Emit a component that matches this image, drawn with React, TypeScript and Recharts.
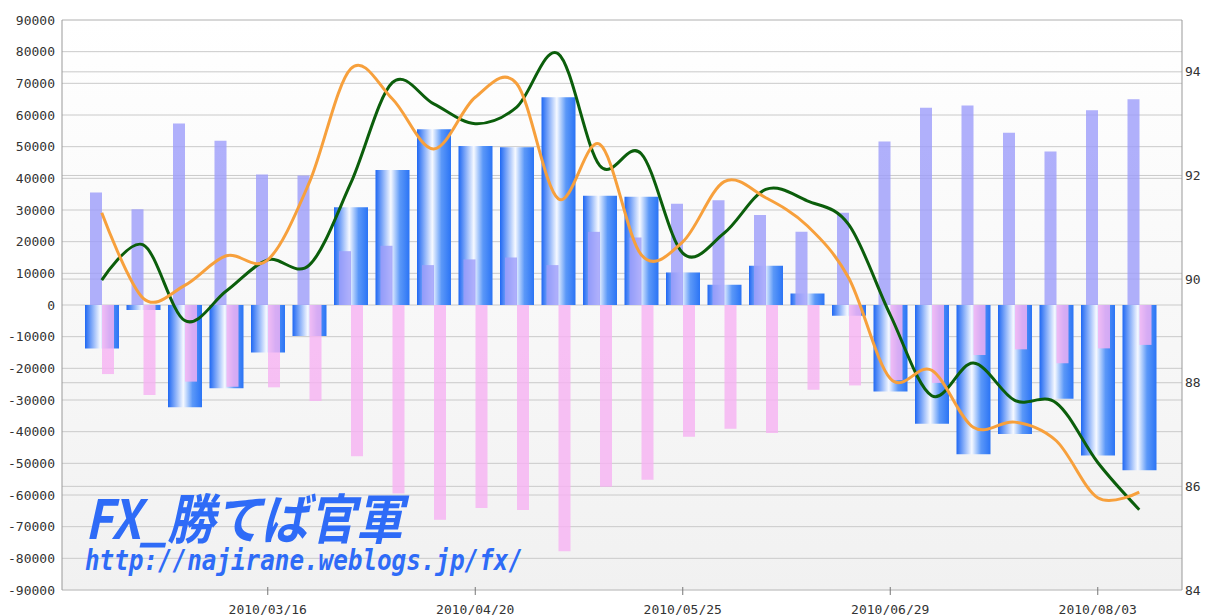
import {
  Bar,
  CartesianGrid,
  ComposedChart,
  Line,
  XAxis,
  YAxis,
} from 'recharts'

const weeks = [
  '2010/02/16', '2010/02/23', '2010/03/02', '2010/03/09', '2010/03/16', '2010/03/23',
  '2010/03/30', '2010/04/06', '2010/04/13', '2010/04/20', '2010/04/27', '2010/05/04',
  '2010/05/11', '2010/05/18', '2010/05/25', '2010/06/01', '2010/06/08', '2010/06/15',
  '2010/06/22', '2010/06/29', '2010/07/06', '2010/07/13', '2010/07/20', '2010/07/27',
  '2010/08/03', '2010/08/10',
]
const shownDates = ['2010/03/16', '2010/04/20', '2010/05/25', '2010/06/29', '2010/08/03']

// blue (wide) bars
const netPos = [
  -13700, -1600, -32300, -26300, -15000, -9800, 30900, 42600, 55500, 50200, 49800, 65600, 34500,
  34200, 10300, 6400, 12400, 3600, -3400, -27300, -37500, -47100, -40700, -29600, -47500, -52200,
]
// lavender bars
const longPos = [
  35500, 30200, 57300, 51900, 41200, 40900, 17000, 18700, 12600, 14400, 15000, 12600, 23100,
  21300, 32000, 33100, 28400, 23100, 29100, 51600, 62300, 63000, 54400, 48500, 61500, 65000,
]
// pink bars
const shortPos = [
  -21800, -28400, -24200, -25800, -26000, -30300, -47800, -59500, -67800, -64100, -64700, -77800,
  -57400, -55200, -41600, -39100, -40400, -26800, -25400, -23700, -24600, -15800, -14000, -18400,
  -13700, -12600,
]
const rateGreen = [
  89.98, 90.66, 89.2, 89.77, 90.37, 90.27, 91.85, 93.79, 93.38, 93.0, 93.32, 94.35, 92.19,
  92.42, 90.5, 90.89, 91.73, 91.51, 91.05, 89.31, 87.75, 88.38, 87.66, 87.61, 86.46, 85.55,
]
const rateOrange = [
  91.28, 89.63, 89.88, 90.45, 90.37, 91.86, 94.06, 93.48, 92.51, 93.51, 93.77, 91.55, 92.6,
  90.47, 90.72, 91.88, 91.57, 91.03, 90.02, 88.08, 88.24, 87.14, 87.24, 86.88, 85.78, 85.89,
]

const leftTicks = [
  90000, 80000, 70000, 60000, 50000, 40000, 30000, 20000, 10000, 0, -10000, -20000, -30000,
  -40000, -50000, -60000, -70000, -80000, -90000,
]
const rightTicks = [84, 86, 88, 90, 92, 94]

const rows = weeks.map((date, i) => ({
  date,
  net: netPos[i],
  long: longPos[i],
  short: shortPos[i],
  green: rateGreen[i],
  orange: rateOrange[i],
}))

const axisFont = { fontFamily: '"DejaVu Sans Mono", monospace', fontSize: 13, fill: '#333' }
const X_AXIS_H = 25

// catmull-rom style cardinal curve (same logic as d3 curveCardinal, tension 0)
const cardinal = (ctx: any) => {
  const k = 1 / 6
  let x0 = NaN, y0 = NaN, x1 = NaN, y1 = NaN, x2 = NaN, y2 = NaN
  let pt = 0
  let line = NaN
  const seg = (x: number, y: number) => {
    ctx.bezierCurveTo(x1 + k * (x2 - x0), y1 + k * (y2 - y0), x2 + k * (x1 - x), y2 + k * (y1 - y), x2, y2)
  }
  return {
    areaStart() { line = 0 },
    areaEnd() { line = NaN },
    lineStart() { x0 = x1 = x2 = y0 = y1 = y2 = NaN; pt = 0 },
    lineEnd() {
      if (pt === 2) ctx.lineTo(x2, y2)
      else if (pt === 3) seg(x1, y1)
      if (line || (line !== 0 && pt === 1)) ctx.closePath()
      line = 1 - line
    },
    point(x: number, y: number) {
      if (pt === 0) {
        pt = 1
        if (line) ctx.lineTo(x, y)
        else ctx.moveTo(x, y)
      } else if (pt === 1) {
        pt = 2
        x1 = x
        y1 = y
      } else {
        pt = 3
        seg(x, y)
      }
      x0 = x1; x1 = x2; x2 = x
      y0 = y1; y1 = y2; y2 = y
    },
  }
}

// tick y comes in at the bottom edge of the axis area, so step back to the axis line
function DateTick({ x, y, payload }: any) {
  if (!shownDates.includes(payload.value)) return <g />
  const axisY = y - X_AXIS_H
  return (
    <g>
      <line x1={x} x2={x} y1={axisY - 8} y2={axisY} stroke="#777" />
      <text x={x} y={axisY + 19} textAnchor="middle" {...axisFont}>
        {payload.value}
      </text>
    </g>
  )
}

export default function App() {
  const pad = { left: 19, right: 22 }
  return (
    <div style={{ position: 'absolute', left: 0, top: 0, width: 1206, height: 615, background: '#fff' }}>
      <ComposedChart
        width={1206}
        height={615}
        data={rows}
        margin={{ top: 20, right: 0, bottom: 0, left: 0 }}
        barGap={0}
      >
        <defs>
          <linearGradient id="plotBg" x1="0" y1="0" x2="0" y2="1">
            <stop offset="0%" stopColor="#ffffff" />
            <stop offset="100%" stopColor="#f1f1f1" />
          </linearGradient>
          <linearGradient id="blueBar" x1="0" y1="0" x2="1" y2="0">
            <stop offset="0%" stopColor="#1f68f3" />
            <stop offset="45%" stopColor="#f6f9ff" />
            <stop offset="72%" stopColor="#5b98f8" />
            <stop offset="100%" stopColor="#2b74f5" />
          </linearGradient>
        </defs>
        <CartesianGrid xAxisId="main" yAxisId="left" vertical={false} stroke="#cacaca" fill="url(#plotBg)" />
        <CartesianGrid xAxisId="main" yAxisId="right" vertical={false} stroke="#cacaca" />
        <XAxis
          xAxisId="main"
          dataKey="date"
          padding={pad}
          interval={0}
          height={X_AXIS_H}
          tickLine={false}
          tickSize={0}
          tickMargin={0}
          axisLine={{ stroke: '#888', strokeWidth: 2 }}
          tick={<DateTick />}
        />
        <XAxis xAxisId="blue" dataKey="date" padding={pad} hide />
        <YAxis
          yAxisId="left"
          width={62}
          domain={[-90000, 90000]}
          ticks={leftTicks}
          allowDataOverflow
          tickLine={false}
          tickSize={0}
          tickMargin={7}
          axisLine={{ stroke: '#999' }}
          tick={axisFont}
        />
        <YAxis
          yAxisId="right"
          orientation="right"
          width={24}
          domain={[84, 95]}
          ticks={rightTicks}
          allowDataOverflow
          tickLine={false}
          tickSize={0}
          tickMargin={3}
          axisLine={{ stroke: '#999' }}
          tick={{ ...axisFont, textAnchor: 'start' }}
        />
        <Bar
          xAxisId="blue"
          yAxisId="left"
          dataKey="net"
          barSize={34}
          fill="url(#blueBar)"
          isAnimationActive={false}
        />
        <Bar
          xAxisId="main"
          yAxisId="left"
          dataKey="long"
          barSize={12}
          fill="#9c9cfa"
          fillOpacity={0.8}
          isAnimationActive={false}
        />
        <Bar
          xAxisId="main"
          yAxisId="left"
          dataKey="short"
          barSize={12}
          fill="#f6b2f3"
          fillOpacity={0.8}
          isAnimationActive={false}
        />
        <Line
          xAxisId="main"
          yAxisId="right"
          dataKey="green"
          type={cardinal as any}
          stroke="#0b5e0b"
          strokeWidth={3}
          dot={false}
          activeDot={false}
          isAnimationActive={false}
        />
        <Line
          xAxisId="main"
          yAxisId="right"
          dataKey="orange"
          type={cardinal as any}
          stroke="#f7a03c"
          strokeWidth={3}
          dot={false}
          activeDot={false}
          isAnimationActive={false}
        />
      </ComposedChart>
      <svg
        width={1206}
        height={615}
        style={{ position: 'absolute', left: 0, top: 0, pointerEvents: 'none' }}
      >
        <text
          x={85}
          y={539}
          fontFamily='"Noto Sans CJK JP", sans-serif'
          fontWeight="bold"
          fontStyle="italic"
          fontSize={54}
          fill="#2e6bf7"
          textLength={318}
          lengthAdjust="spacingAndGlyphs"
        >
          FX_勝てば官軍
        </text>
        <text
          x={85}
          y={570}
          fontFamily='"DejaVu Sans Mono", monospace'
          fontWeight="bold"
          fontStyle="italic"
          fontSize={28}
          fill="#2e6bf7"
          textLength={438}
          lengthAdjust="spacingAndGlyphs"
        >
          http://najirane.weblogs.jp/fx/
        </text>
      </svg>
    </div>
  )
}
